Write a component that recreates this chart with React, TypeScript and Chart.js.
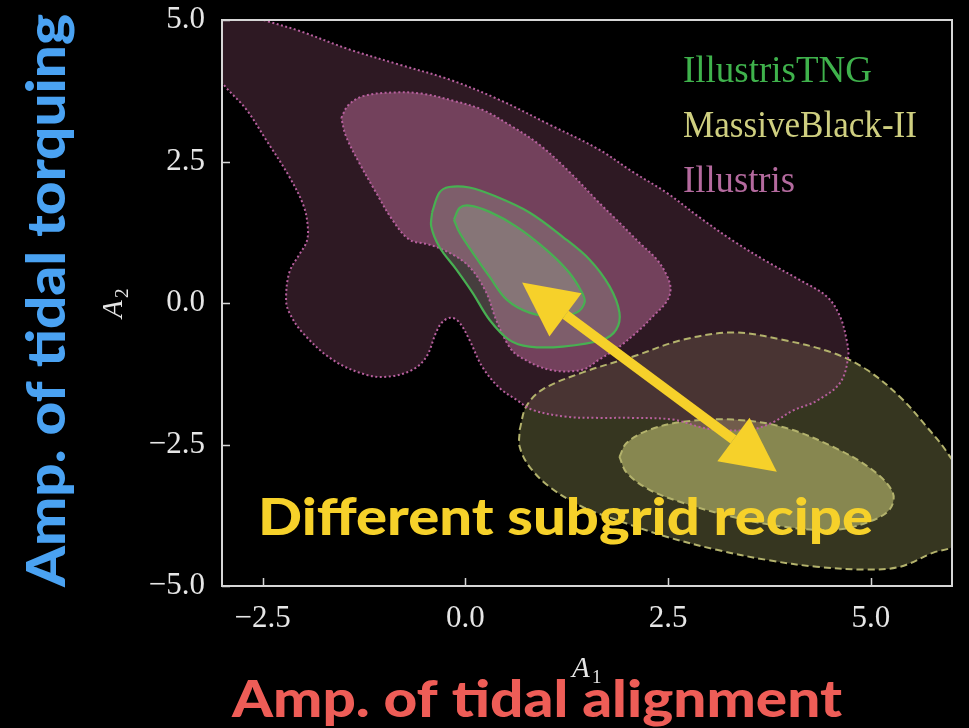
import React, { useEffect, useRef } from 'react';
import { Chart, registerables } from 'chart.js';

Chart.register(...registerables);

// ---------- data ----------
const xRange = [-3, 6];
const yRange = [-5, 5];
const xTicks = [-2.5, 0, 2.5, 5];
const yTicks = [-5, -2.5, 0, 2.5, 5];
const seriesNames = ['IllustrisTNG', 'MassiveBlack-II', 'Illustris'];
const xLabelText = 'A';
const xLabelSub = '1';
const yLabelText = 'A';
const yLabelSub = '2';
const noteY = 'Amp. of tidal torquing';
const noteX = 'Amp. of tidal alignment';
const noteMid = 'Different subgrid recipe';
const arrowFrom = [0.7, 0.36];
const arrowTo = [3.84, -2.98];

// contour polygons, [A1, A2]
const illustrisOuter: number[][] = [
  [-3.28, 5.36], [-2.42, 4.97], [-2.05, 4.81], [-1.43, 4.48], [-0.81, 4.21], [-0.2, 3.95], [0.42, 3.59],
  [1.04, 3.15], [1.65, 2.71], [2.06, 2.32], [2.48, 1.95], [2.89, 1.51], [3.3, 1.1], [3.72, 0.73],
  [4.12, 0.41], [4.46, 0.11], [4.62, -0.24], [4.7, -0.65], [4.72, -0.95], [4.62, -1.41], [4.33, -1.73],
  [4.04, -1.9], [3.79, -2.11], [3.51, -2.24], [3.1, -2.24], [2.89, -2.19], [2.56, -2.06], [2.06, -2.03],
  [1.65, -2.03], [1.25, -2.01], [0.83, -1.89], [0.63, -1.71], [0.42, -1.5], [0.21, -1.13], [0.05, -0.65],
  [-0.07, -0.35], [-0.17, -0.26], [-0.28, -0.33], [-0.36, -0.52], [-0.48, -0.95], [-0.65, -1.18],
  [-0.94, -1.3], [-1.22, -1.27], [-1.64, -1.0], [-2.01, -0.52], [-2.17, -0.17], [-2.21, 0.06],
  [-2.17, 0.54], [-2.05, 0.85], [-1.96, 1.07], [-1.94, 1.3], [-1.99, 1.7], [-2.17, 2.23], [-2.46, 2.89],
  [-2.7, 3.42], [-2.98, 3.86], [-3.28, 4.48], [-3.28, 5.36],
];
const illustrisInner: number[][] = [
  [-1.53, 3.27], [-1.44, 3.5], [-1.25, 3.66], [-0.88, 3.72], [-0.54, 3.7], [-0.14, 3.57], [0.2, 3.42],
  [0.54, 3.15], [0.91, 2.8], [1.28, 2.32], [1.65, 1.77], [1.9, 1.42], [2.15, 1.06], [2.36, 0.77],
  [2.49, 0.47], [2.53, 0.24], [2.48, 0.02], [2.31, -0.24], [2.15, -0.47], [1.9, -0.77], [1.65, -1.0],
  [1.44, -1.18], [1.04, -1.18], [0.67, -0.95], [0.54, -0.77], [0.38, -0.3], [0.26, 0.18], [0.05, 0.64],
  [-0.2, 0.89], [-0.44, 1.03], [-0.69, 1.12], [-0.9, 1.47], [-1.1, 1.95], [-1.31, 2.48], [-1.47, 2.94],
  [-1.53, 3.27],
];
const tngOuter: number[][] = [
  [-0.41, 1.6], [-0.32, 1.95], [-0.2, 2.05], [0.05, 2.04], [0.38, 1.88], [0.79, 1.6], [1.2, 1.17],
  [1.53, 0.77], [1.78, 0.29], [1.9, -0.17], [1.86, -0.47], [1.69, -0.65], [1.2, -0.77], [0.79, -0.77],
  [0.54, -0.65], [0.3, -0.3], [0.09, 0.18], [-0.11, 0.59], [-0.32, 0.99], [-0.42, 1.35], [-0.41, 1.6],
];
const tngInner: number[][] = [
  [-0.14, 1.47], [-0.07, 1.68], [0.05, 1.72], [0.3, 1.61], [0.63, 1.35], [1.0, 0.94], [1.28, 0.54],
  [1.44, 0.18], [1.47, 0.01], [1.37, -0.17], [1.12, -0.24], [0.79, -0.17], [0.51, 0.06], [0.3, 0.46],
  [0.09, 0.89], [-0.07, 1.24], [-0.14, 1.47],
];
const mbOuter: number[][] = [
  [0.67, -2.24], [0.75, -1.83], [0.95, -1.53], [1.44, -1.23], [2.06, -0.95], [2.68, -0.65], [3.3, -0.52],
  [3.91, -0.65], [4.53, -0.88], [4.95, -1.18], [5.36, -1.66], [5.69, -2.19], [5.94, -2.64], [6.2, -3.3],
  [6.2, -4.01], [6.0, -4.31], [5.77, -4.41], [5.36, -4.66], [4.95, -4.71], [4.33, -4.66], [3.72, -4.54],
  [3.1, -4.36], [2.48, -4.13], [1.86, -3.83], [1.44, -3.6], [1.04, -3.25], [0.79, -2.89], [0.67, -2.54],
  [0.67, -2.24],
];
const mbInner: number[][] = [
  [1.9, -2.72], [1.99, -2.47], [2.27, -2.24], [2.68, -2.1], [3.3, -2.06], [3.91, -2.19], [4.53, -2.54],
  [5.02, -2.95], [5.27, -3.35], [5.23, -3.65], [4.95, -3.88], [4.53, -4.01], [3.91, -3.95], [3.3, -3.78],
  [2.68, -3.53], [2.27, -3.3], [1.99, -3.0], [1.9, -2.72],
];

// ---------- styles ----------
const TNG_LINE = '#48b052';
const MB_LINE = '#b3b26c';
const IL_LINE = '#b8609f';
const legendColors = ['#3fb24c', '#cfcf80', '#b46a9e'];
const legendWidths = [189, 234, 112];

const toPts = (arr: number[][]) => arr.map(([x, y]) => ({ x, y }));

function fitText(ctx: CanvasRenderingContext2D, text: string, font: string, color: string, x: number, y: number, width: number) {
  ctx.save();
  ctx.font = font;
  const w = ctx.measureText(text).width;
  ctx.translate(x, y);
  ctx.scale(width / w, 1);
  ctx.fillStyle = color;
  ctx.textAlign = 'left';
  ctx.textBaseline = 'alphabetic';
  ctx.fillText(text, 0, 0);
  ctx.restore();
}

const overlayPlugin = {
  id: 'overlay',
  afterDatasetsDraw(chart: any) {
    const { ctx, chartArea: a, scales } = chart;
    const xs = scales.x;
    const ys = scales.y;
    ctx.save();
    // frame + inward ticks
    ctx.strokeStyle = '#d6d6d6';
    ctx.lineWidth = 1.5;
    ctx.beginPath();
    xTicks.forEach((v) => {
      const px = Math.round(xs.getPixelForValue(v)) + 0.5;
      ctx.moveTo(px, a.bottom);
      ctx.lineTo(px, a.bottom - 8);
    });
    yTicks.forEach((v) => {
      const py = Math.round(ys.getPixelForValue(v)) + 0.5;
      ctx.moveTo(a.left, py);
      ctx.lineTo(a.left + 8, py);
    });
    ctx.stroke();
    ctx.lineWidth = 2;
    ctx.strokeRect(a.left, a.top, a.right - a.left, a.bottom - a.top);

    // legend (text only)
    seriesNames.forEach((n, i) => {
      fitText(ctx, n, '37px "Liberation Serif"', legendColors[i], 683, 82 + i * 55, legendWidths[i]);
    });

    // axis labels
    ctx.fillStyle = '#e6e6e6';
    ctx.textAlign = 'left';
    ctx.textBaseline = 'alphabetic';
    const cx = (a.left + a.right) / 2;
    ctx.font = 'italic 29px "Liberation Serif"';
    ctx.fillText(xLabelText, cx - 15, 677);
    ctx.font = '19px "Liberation Serif"';
    ctx.fillText(xLabelSub, cx + 5, 683);
    const cy = (a.top + a.bottom) / 2;
    ctx.save();
    ctx.translate(122, cy);
    ctx.rotate(-Math.PI / 2);
    ctx.font = 'italic 29px "Liberation Serif"';
    ctx.fillText(yLabelText, -15, 0);
    ctx.font = '19px "Liberation Serif"';
    ctx.fillText(yLabelSub, 5, 6);
    ctx.restore();

    // double-headed arrow
    const x1 = xs.getPixelForValue(arrowFrom[0]);
    const y1 = ys.getPixelForValue(arrowFrom[1]);
    const x2 = xs.getPixelForValue(arrowTo[0]);
    const y2 = ys.getPixelForValue(arrowTo[1]);
    const dx = x2 - x1;
    const dy = y2 - y1;
    const len = Math.hypot(dx, dy);
    const ux = dx / len;
    const uy = dy / len;
    const nx = -uy;
    const ny = ux;
    const hl = 54;
    const hw = 27;
    const sw = 5;
    ctx.fillStyle = '#f6d12a';
    ctx.beginPath();
    ctx.moveTo(x1 + ux * hl + nx * sw, y1 + uy * hl + ny * sw);
    ctx.lineTo(x2 - ux * hl + nx * sw, y2 - uy * hl + ny * sw);
    ctx.lineTo(x2 - ux * hl - nx * sw, y2 - uy * hl - ny * sw);
    ctx.lineTo(x1 + ux * hl - nx * sw, y1 + uy * hl - ny * sw);
    ctx.closePath();
    ctx.fill();
    ctx.beginPath();
    ctx.moveTo(x1, y1);
    ctx.lineTo(x1 + ux * hl + nx * hw, y1 + uy * hl + ny * hw);
    ctx.lineTo(x1 + ux * hl - nx * hw, y1 + uy * hl - ny * hw);
    ctx.closePath();
    ctx.fill();
    ctx.beginPath();
    ctx.moveTo(x2, y2);
    ctx.lineTo(x2 - ux * hl + nx * hw, y2 - uy * hl + ny * hw);
    ctx.lineTo(x2 - ux * hl - nx * hw, y2 - uy * hl - ny * hw);
    ctx.closePath();
    ctx.fill();

    // slide annotations
    fitText(ctx, noteMid, '900 52px Lato', '#f6d12a', 258, 535, 615);
    fitText(ctx, noteX, '900 52px Lato', '#ee5d57', 232, 717, 610);
    ctx.save();
    ctx.translate(65, 587);
    ctx.rotate(-Math.PI / 2);
    fitText(ctx, noteY, '900 54px Lato', '#4aa2f2', 0, 0, 573);
    ctx.restore();

    ctx.restore();
  },
};

const fmt = (v: number) => v.toFixed(1).replace('-', '\u2212');

export default function App() {
  const ref = useRef<HTMLCanvasElement | null>(null);
  useEffect(() => {
    document.body.style.margin = '0';
    document.body.style.background = '#000';
    const canvas = ref.current;
    if (!canvas) return;
    const mk = (label: string, pts: number[][], fillColor: string, line: string, width: number, dash: number[], order: number) => ({
      label,
      data: toPts(pts),
      showLine: true,
      fill: 'shape',
      backgroundColor: fillColor,
      borderColor: line,
      borderWidth: width,
      borderDash: dash,
      pointRadius: 0,
      pointHoverRadius: 0,
      tension: 0.35,
      order,
    });
    const chart = new Chart(canvas, {
      type: 'scatter',
      data: {
        datasets: [
          mk(seriesNames[1], mbOuter, 'rgba(200,200,118,0.27)', MB_LINE, 2, [7, 4], 6),
          mk(seriesNames[1], mbInner, 'rgba(200,200,118,0.56)', MB_LINE, 2, [7, 4], 5),
          mk(seriesNames[2], illustrisOuter, 'rgba(92,50,70,0.5)', IL_LINE, 2, [2, 2.5], 4),
          mk(seriesNames[2], illustrisInner, 'rgba(165,95,135,0.58)', IL_LINE, 2, [2, 2.5], 3),
          mk(seriesNames[0], tngOuter, 'rgba(170,210,170,0.2)', TNG_LINE, 2.2, [], 2),
          mk(seriesNames[0], tngInner, 'rgba(170,210,170,0.2)', TNG_LINE, 2.2, [], 1),
        ] as any,
      },
      options: {
        responsive: false,
        animation: false,
        devicePixelRatio: 1,
        layout: { padding: { top: 20, right: 17, left: 0, bottom: 0 } },
        plugins: {
          legend: { display: false },
          tooltip: { enabled: false },
          filler: { drawTime: 'beforeDatasetsDraw' },
        } as any,
        scales: {
          x: {
            type: 'linear',
            min: xRange[0],
            max: xRange[1],
            grid: { display: false, drawTicks: false },
            border: { display: false },
            afterBuildTicks: (s: any) => { s.ticks = xTicks.map((v) => ({ value: v })); },
            afterFit: (s: any) => { s.height = 142; s.paddingLeft = 0; s.paddingRight = 0; },
            ticks: {
              autoSkip: false,
              maxRotation: 0,
              padding: 14,
              color: '#e6e6e6',
              font: { family: 'Liberation Serif', size: 31 },
              callback: (v: any) => fmt(Number(v)),
            },
          },
          y: {
            type: 'linear',
            min: yRange[0],
            max: yRange[1],
            grid: { display: false, drawTicks: false },
            border: { display: false },
            afterBuildTicks: (s: any) => { s.ticks = yTicks.map((v) => ({ value: v })); },
            afterFit: (s: any) => { s.width = 222; s.paddingTop = 0; s.paddingBottom = 0; },
            ticks: {
              autoSkip: false,
              padding: 17,
              color: '#e6e6e6',
              font: { family: 'Liberation Serif', size: 31 },
              callback: (v: any) => fmt(Number(v)),
            },
          },
        },
      } as any,
      plugins: [overlayPlugin],
    });
    return () => chart.destroy();
  }, []);
  return (
    <div style={{ position: 'fixed', left: 0, top: 0, width: 969, height: 728, background: '#000' }}>
      <canvas ref={ref} width={969} height={728} style={{ display: 'block', width: 969, height: 728 }} />
    </div>
  );
}
